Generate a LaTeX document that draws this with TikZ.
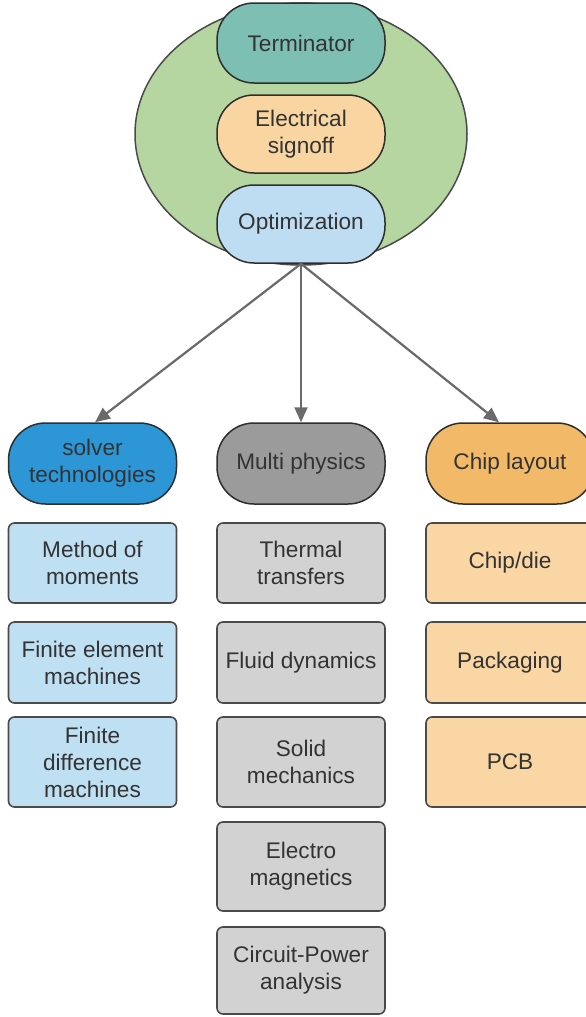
\documentclass[tikz,border=0pt]{standalone}
\usepackage{fontspec}
\setmainfont{Liberation Sans}
\usetikzlibrary{arrows.meta,calc,shapes.geometric}

\definecolor{ellgreen}{HTML}{B5D6A0}
\definecolor{termteal}{HTML}{7DBFB3}
\definecolor{signpeach}{HTML}{F9D5A1}
\definecolor{optblue}{HTML}{BEDDF2}
\definecolor{solvblue}{HTML}{2D96D6}
\definecolor{multgray}{HTML}{9B9B9B}
\definecolor{chiporange}{HTML}{F2BA68}
\definecolor{lightblue}{HTML}{BFDFF2}
\definecolor{lightgray}{HTML}{D2D2D2}
\definecolor{lightorange}{HTML}{F9D6A3}
\definecolor{txt}{HTML}{333333}
\definecolor{edge}{HTML}{2E2E2E}
\definecolor{boxedge}{HTML}{4A4A4A}
\definecolor{arrowgray}{HTML}{6A6A6A}

\tikzset{
  lbl/.style={font=\fontsize{22.6}{27}\selectfont, text=txt, align=center, inner sep=0pt},
  pill/.style={lbl, draw=edge, line width=1.5pt, rectangle, rounded corners=37pt,
               minimum width=168pt},
  cell/.style={lbl, draw=boxedge, line width=1.6pt, rectangle, rounded corners=6pt,
               minimum width=168pt},
  link/.style={draw=arrowgray, line width=2.2pt,
               -{Triangle[length=15pt,width=13pt]}},
}

\begin{document}
\begin{tikzpicture}[x=1pt,y=-1pt]
  \clip (0,0) rectangle (586,1017);
  \fill[white] (0,0) rectangle (586,1017);

  % central cluster
  \node[ellipse, draw=boxedge, line width=1.5pt, fill=ellgreen,
        minimum width=332pt, minimum height=262pt, inner sep=0pt] (hub) at (301,134) {};
  \node[pill, fill=termteal,  minimum height=80pt] (term) at (301,43)  {Terminator};
  \node[pill, fill=signpeach, minimum height=78pt] (sign) at (301,134) {Electrical\\signoff};
  \node[pill, fill=optblue,   minimum height=78pt] (opt)  at (301,224) {Optimization};

  % category headers
  \node[pill, fill=solvblue,   minimum height=81pt] (solver) at (92.5,463.5) {solver\\technologies};
  \node[pill, fill=multgray,   minimum height=81pt] (multi)  at (301,463.5)  {Multi physics};
  \node[pill, fill=chiporange, minimum height=81pt] (chip)   at (510,463.5)  {Chip layout};

  % solver column
  \node[cell, fill=lightblue, minimum height=80pt] (mom) at (92.5,563)   {Method of\\moments};
  \node[cell, fill=lightblue, minimum height=81pt] (fem) at (92.5,662.5) {Finite element\\machines};
  \node[cell, fill=lightblue, minimum height=90pt] (fdm) at (92.5,762)   {Finite\\difference\\machines};

  % multi-physics column
  \node[cell, fill=lightgray, minimum height=80pt] (therm)  at (301,563)   {Thermal\\transfers};
  \node[cell, fill=lightgray, minimum height=81pt] (fluid)  at (301,662.5) {Fluid dynamics};
  \node[cell, fill=lightgray, minimum height=90pt] (solid)  at (301,762)   {Solid\\mechanics};
  \node[cell, fill=lightgray, minimum height=89pt] (emag)   at (301,866.5) {Electro\\magnetics};
  \node[cell, fill=lightgray, minimum height=87pt] (power)  at (301,970.5) {Circuit-Power\\analysis};

  % chip layout column
  \node[cell, fill=lightorange, minimum height=80pt] (die)  at (510,563)   {Chip/die};
  \node[cell, fill=lightorange, minimum height=81pt] (pack) at (510,662.5) {Packaging};
  \node[cell, fill=lightorange, minimum height=90pt] (pcb)  at (510,762)   {PCB};

  % connectors
  \draw[link] (opt.south) -- ($(solver.north)+(2.5,0)$);
  \draw[link] (opt.south) -- (multi.north);
  \draw[link] (opt.south) -- ($(chip.north)+(-11,0)$);
\end{tikzpicture}
\end{document}
